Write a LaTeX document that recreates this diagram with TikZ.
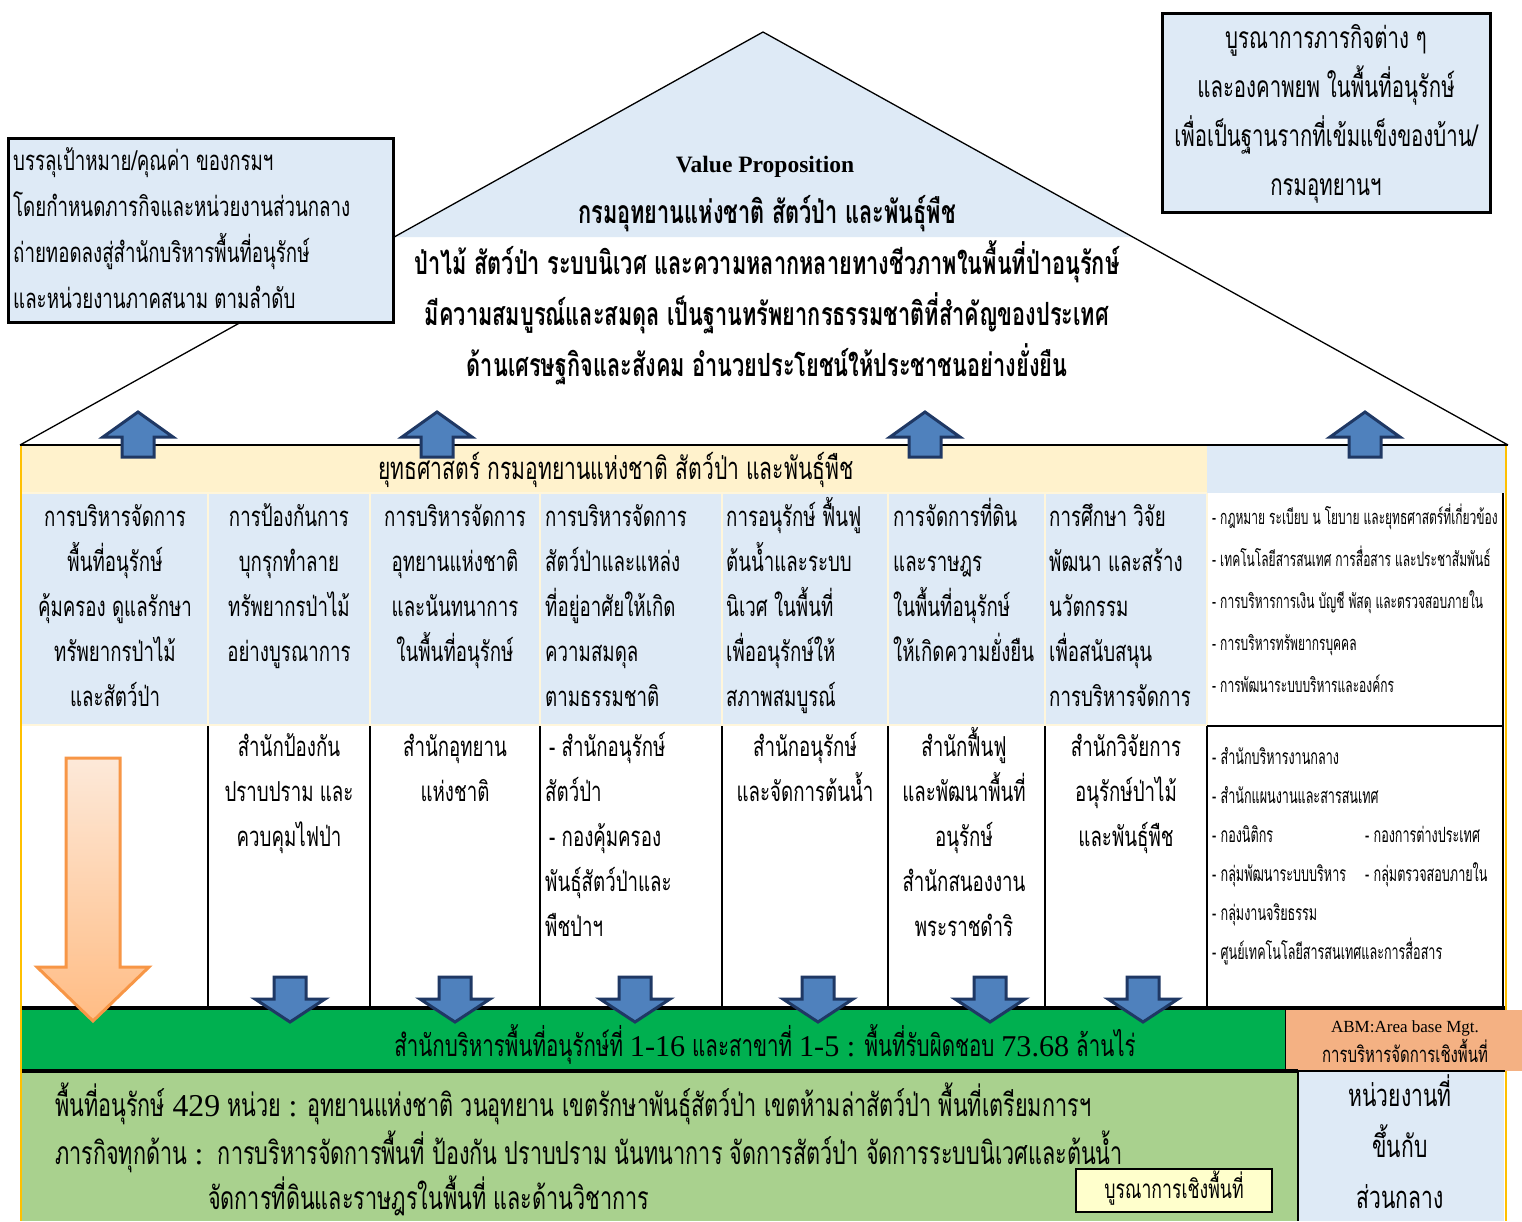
\documentclass[tikz,border=0pt]{standalone}
\usepackage{fontspec}
\setmainfont{Liberation Serif}
\newfontfamily\thaifont[Script=Thai,FakeStretch=0.68]{Loma}
\newfontfamily\thaismall[Script=Thai,FakeStretch=0.6]{Loma}
\newfontfamily\latfont{Liberation Serif}
\newcommand{\lat}[1]{{\latfont #1}}
\definecolor{lblue}{HTML}{DEEAF6}
\definecolor{lyellow}{HTML}{FFF2CC}
\definecolor{bandgreen}{HTML}{00B050}
\definecolor{lgreen}{HTML}{A9D18E}
\definecolor{abmorange}{HTML}{F4B183}
\definecolor{boxyellow}{HTML}{FFFFCC}
\definecolor{arrowblue}{HTML}{4F81BD}
\definecolor{arrowdark}{HTML}{1F3864}
\definecolor{gold}{HTML}{FFC000}
\definecolor{orangeedge}{HTML}{F79646}
\definecolor{orangetop}{HTML}{FDE9D9}
\definecolor{orangebot}{HTML}{FFBC84}
\tikzset{
  txt/.style={inner sep=0pt, font=\thaifont\fontsize{27.5}{30}\selectfont},
  bigtxt/.style={inner sep=0pt, font=\thaifont\fontsize{31}{34}\selectfont},
  smalltxt/.style={inner sep=0pt, font=\thaismall\fontsize{20}{24}\selectfont},
  rooftxt/.style={inner sep=0pt, font=\thaifont\bfseries\fontsize{32}{34}\selectfont},
  boxline/.style={draw=black, line width=3pt},
  blockarrow/.style={fill=arrowblue, draw=arrowdark, line width=3pt, line join=miter},
  uparr/.pic={\path[blockarrow] (-16,20) -- (-16,0) -- (-35,0) -- (0,-25) -- (35,0) -- (16,0) -- (16,20) -- cycle;},
  dnarr/.pic={\path[blockarrow] (-16,-22) -- (-16,0) -- (-35,0) -- (0,23) -- (35,0) -- (16,0) -- (16,-22) -- cycle;},
}
% \tlines[opts]{name}{x}{first baseline y}{dy}{list}
\newcommand{\tlines}[6][]{%
  \foreach \tl [count=\ti from 0] in {#6} {%
    \node[txt,#1] (#2-\ti) at (#3,{#4+#5*\ti}) {\tl};}}
\begin{document}
\begin{tikzpicture}[x=1pt,y=-1pt]
\useasboundingbox (0,0) rectangle (1522,1221);
\fill[white] (0,0) rectangle (1522,1221);
% roof
\fill[lblue] (394,237) -- (763,32) -- (1133,237) -- cycle;
\draw[black, line width=1.3pt] (20,445) -- (763,32) -- (1508,445);
% top boxes
\path[boxline, fill=lblue] (8,138) rectangle (393,322);
\path[boxline, fill=lblue] (1162,13) rectangle (1490,212);
% header band
\fill[lyellow] (22,446) rectangle (1207,493);
\fill[lblue] (1207,446) rectangle (1505,493);
% row 1
\fill[lblue] (22,493) rectangle (1207,725);
\foreach \xx in {208,370,540,722,888,1045,1207}
  \draw[lyellow!70!white, line width=2pt] (\xx,493) -- (\xx,725);
\draw[lyellow!70!white, line width=2pt] (22,725) -- (1207,725);
\draw[lyellow!70!white, line width=2pt] (22,493) -- (1207,493);
% row 2 dividers
\foreach \xx in {208,370,540,722,888,1045}
  \draw[black, line width=2pt] (\xx,726) -- (\xx,1007);
\draw[black, line width=2pt] (1207,726) -- (1503,726) -- (1503,1007);
\draw[black, line width=2pt] (1207,726) -- (1207,1007);
\draw[black, line width=2pt] (1503,493) -- (1503,726);
% bands
\fill[bandgreen] (22,1008) rectangle (1285,1070);
\path[fill=abmorange] (1285,1010) rectangle (1522,1071);
\draw[black, line width=1pt] (1285,1010) -- (1285,1071);
\draw[black, line width=4pt] (22,1008) -- (1505,1008);
\fill[lgreen] (22,1072) rectangle (1298,1221);
\fill[lblue] (1298,1072) rectangle (1504,1221);
\draw[black, line width=4pt] (22,1071) -- (1298,1071);
\draw[black, line width=1.5pt] (1298,1071) -- (1298,1221);
\draw[black, line width=1.5pt] (1285,1071) -- (1505,1071);
\path[draw=black, line width=2.5pt, fill=boxyellow] (1076,1169) rectangle (1272,1212);
% frame lines
\draw[black, line width=2pt] (20,445) -- (1508,445);
\draw[gold, line width=2pt] (21,446) -- (21,1221);
\draw[gold, line width=2pt] (1506,446) -- (1506,1010);
\draw[gold, line width=2pt] (1506,1071) -- (1506,1221);
% arrows
\foreach \xx [count=\k] in {138,437,925,1365} \pic (ua\k) at (\xx,437) {uparr};
\foreach \xx [count=\k] in {290,455,635,818,990,1143} \pic (da\k) at (\xx,999) {dnarr};
\path[draw=orangeedge, line width=3pt, top color=orangetop, bottom color=orangebot, line join=miter]
  (66,758) -- (120,758) -- (120,967) -- (149,967) -- (93,1021) -- (37,967) -- (66,967) -- cycle;
% ---------- texts ----------
\tlines[anchor=base west]{tl}{13}{170}{46}{บรรลุเป้าหมาย/คุณค่า ของกรมฯ,โดยกำหนดภารกิจและหน่วยงานส่วนกลาง,ถ่ายทอดลงสู่สำนักบริหารพื้นที่อนุรักษ์,และหน่วยงานภาคสนาม ตามลำดับ}
\tlines[anchor=base, font=\thaifont\fontsize{30}{34}\selectfont]{tr}{1326}{48}{49}{บูรณาการภารกิจต่าง ๆ,และองคาพยพ ในพื้นที่อนุรักษ์,เพื่อเป็นฐานรากที่เข้มแข็งของบ้าน/,กรมอุทยานฯ}
\node[inner sep=0pt, anchor=base, font=\latfont\bfseries\fontsize{23.5}{26}\selectfont] (vp) at (765,172) {Value Proposition};
\tlines[rooftxt,anchor=base]{roof}{767}{223}{51}{กรมอุทยานแห่งชาติ สัตว์ป่า และพันธุ์พืช,ป่าไม้ สัตว์ป่า ระบบนิเวศ และความหลากหลายทางชีวภาพในพื้นที่ป่าอนุรักษ์,มีความสมบูรณ์และสมดุล เป็นฐานทรัพยากรธรรมชาติที่สำคัญของประเทศ,ด้านเศรษฐกิจและสังคม อำนวยประโยชน์ให้ประชาชนอย่างยั่งยืน}
\node[bigtxt, anchor=base] (hdr) at (616,479) {ยุทธศาสตร์ กรมอุทยานแห่งชาติ สัตว์ป่า และพันธุ์พืช};
% row 1
\tlines[anchor=base]{ra}{115}{526}{45}{การบริหารจัดการ,พื้นที่อนุรักษ์,คุ้มครอง ดูแลรักษา,ทรัพยากรป่าไม้,และสัตว์ป่า}
\tlines[anchor=base]{rb}{289}{526}{45}{การป้องกันการ,บุกรุกทำลาย,ทรัพยากรป่าไม้,อย่างบูรณาการ}
\tlines[anchor=base]{rc}{455}{526}{45}{การบริหารจัดการ,อุทยานแห่งชาติ,และนันทนาการ,ในพื้นที่อนุรักษ์}
\tlines[anchor=base west]{rd}{545}{526}{45}{การบริหารจัดการ,สัตว์ป่าและแหล่ง,ที่อยู่อาศัยให้เกิด,ความสมดุล,ตามธรรมชาติ}
\tlines[anchor=base west]{re}{726}{526}{45}{การอนุรักษ์ ฟื้นฟู,ต้นน้ำและระบบ,นิเวศ ในพื้นที่,เพื่ออนุรักษ์ให้,สภาพสมบูรณ์}
\tlines[anchor=base west]{rf}{893}{526}{45}{การจัดการที่ดิน,และราษฎร,ในพื้นที่อนุรักษ์,ให้เกิดความยั่งยืน}
\tlines[anchor=base west]{rg}{1049}{526}{45}{การศึกษา วิจัย,พัฒนา และสร้าง,นวัตกรรม,เพื่อสนับสนุน,การบริหารจัดการ}
\tlines[smalltxt,anchor=base west]{rh}{1212}{524}{42}{- กฎหมาย ระเบียบ น โยบาย และยุทธศาสตร์ที่เกี่ยวข้อง,- เทคโนโลยีสารสนเทศ การสื่อสาร และประชาสัมพันธ์,- การบริหารการเงิน บัญชี พัสดุ และตรวจสอบภายใน,- การบริหารทรัพยากรบุคคล,- การพัฒนาระบบบริหารและองค์กร}
% row 2
\tlines[anchor=base]{sb}{289}{756}{45}{สำนักป้องกัน,ปราบปราม และ,ควบคุมไฟป่า}
\tlines[anchor=base]{sc}{455}{756}{45}{สำนักอุทยาน,แห่งชาติ}
\node[txt, anchor=base west] (sd-0) at (549,756) {- สำนักอนุรักษ์};
\node[txt, anchor=base west] (sd-1) at (545,801) {สัตว์ป่า};
\node[txt, anchor=base west] (sd-2) at (549,846) {- กองคุ้มครอง};
\node[txt, anchor=base west] (sd-3) at (545,891) {พันธุ์สัตว์ป่าและ};
\node[txt, anchor=base west] (sd-4) at (545,936) {พืชป่าฯ};
\tlines[anchor=base]{se}{805}{756}{45}{สำนักอนุรักษ์,และจัดการต้นน้ำ}
\tlines[anchor=base]{sf}{964}{756}{45}{สำนักฟื้นฟู,และพัฒนาพื้นที่,อนุรักษ์,สำนักสนองงาน,พระราชดำริ}
\tlines[anchor=base]{sg}{1126}{756}{45}{สำนักวิจัยการ,อนุรักษ์ป่าไม้,และพันธุ์พืช}
\tlines[smalltxt,anchor=base west,font=\thaismall\fontsize{21}{24}\selectfont]{sh}{1212}{764}{39}{- สำนักบริหารงานกลาง,- สำนักแผนงานและสารสนเทศ,- กองนิติกร,- กลุ่มพัฒนาระบบบริหาร,- กลุ่มงานจริยธรรม,- ศูนย์เทคโนโลยีสารสนเทศและการสื่อสาร}
\tlines[smalltxt,anchor=base west,font=\thaismall\fontsize{21}{24}\selectfont]{si}{1365}{842}{39}{- กองการต่างประเทศ,- กลุ่มตรวจสอบภายใน}
% bottom
\node[bigtxt, anchor=base, font=\thaifont\fontsize{30.2}{32}\selectfont] (green) at (765,1056) {สำนักบริหารพื้นที่อนุรักษ์ที่ \lat{1-16} และสาขาที่ \lat{1-5 :} พื้นที่รับผิดชอบ \lat{73.68} ล้านไร่};
\node[inner sep=0pt, anchor=base, font=\latfont\fontsize{17}{20}\selectfont] (abm1) at (1405,1032) {ABM:Area base Mgt.};
\node[inner sep=0pt, anchor=base, font=\thaifont\fontsize{22}{24}\selectfont] (abm2) at (1405,1062) {การบริหารจัดการเชิงพื้นที่};
\node[bigtxt, anchor=base west, font=\thaifont\fontsize{31.8}{34}\selectfont] (lg1) at (55,1116) {พื้นที่อนุรักษ์ \lat{429} หน่วย \lat{:} อุทยานแห่งชาติ วนอุทยาน เขตรักษาพันธุ์สัตว์ป่า เขตห้ามล่าสัตว์ป่า พื้นที่เตรียมการฯ};
\node[bigtxt, anchor=base west, font=\thaifont\fontsize{31.8}{34}\selectfont] (lg2) at (55,1164) {ภารกิจทุกด้าน \lat{:}\ \ การบริหารจัดการพื้นที่ ป้องกัน ปราบปราม นันทนาการ จัดการสัตว์ป่า จัดการระบบนิเวศและต้นน้ำ};
\node[bigtxt, anchor=base west, font=\thaifont\fontsize{31.8}{34}\selectfont] (lg3) at (208,1209) {จัดการที่ดินและราษฎรในพื้นที่ และด้านวิชาการ};
\node[txt, anchor=base, font=\thaifont\fontsize{26}{28}\selectfont] (yb) at (1174,1198) {บูรณาการเชิงพื้นที่};
\tlines[bigtxt,anchor=base]{bb}{1400}{1106}{51}{หน่วยงานที่,ขึ้นกับ,ส่วนกลาง}
\end{tikzpicture}
\end{document}
